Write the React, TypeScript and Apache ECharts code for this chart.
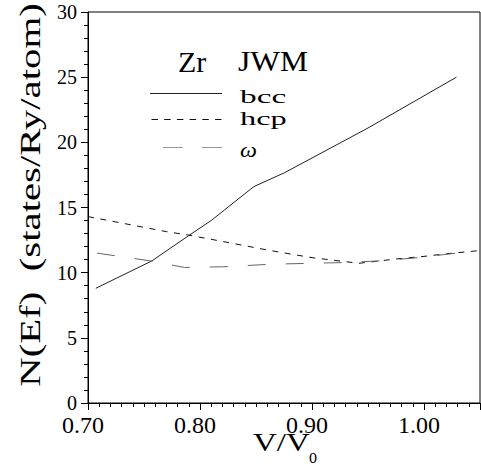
import React, { useEffect, useRef } from "react";
import * as echarts from "echarts";

// V/Vo values and N(Ef) values
const bccV = [0.707, 0.757, 0.79, 0.81, 0.848, 0.8755, 0.95, 1.029];
const bccN = [8.8, 10.9, 12.85, 14.0, 16.6, 17.67, 21.1, 25.0];

const hcpV = [0.7, 0.77, 0.79, 0.826, 0.86, 0.9, 0.942, 0.975, 1.0, 1.02, 1.05];
const hcpN = [14.3, 13.15, 12.88, 12.3, 11.74, 11.15, 10.72, 11.05, 11.25, 11.45, 11.7];

const omegaV = [0.708, 0.756, 0.786, 0.82, 0.864, 0.925, 0.96, 0.995, 1.029];
const omegaN = [11.5, 10.9, 10.4, 10.45, 10.65, 10.77, 10.9, 11.15, 11.5];

const xLabelValues = [0.7, 0.8, 0.9, 1.0];
const legendTitle = ["Zr", "JWM"];
const seriesNames = ["bcc", "hcp", "ω"];
const yTitle = "N(Ef)  (states/Ry/atom)";
const xTitleMain = "V/V";
const xTitleSub = "o";

const FONT = "'Liberation Serif', 'Times New Roman', serif";

const pairs = (xs: number[], ys: number[]) => xs.map((x, i) => [x, ys[i]]);

export default function App() {
  const ref = useRef<HTMLDivElement>(null);
  useEffect(() => {
    if (!ref.current) return;
    const chart = echarts.init(ref.current, undefined, { renderer: "svg" });
    const mid = (text: string, x: number, y: number, size: number, scaleX = 1, extra: any = {}) => ({
      type: "text",
      x,
      y,
      scaleX,
      rotation: extra.rotation || 0,
      style: {
        text,
        fontFamily: FONT,
        fontSize: size,
        fontStyle: extra.italic ? "italic" : "normal",
        fill: "#000",
        align: extra.align || "left",
        verticalAlign: "middle",
      },
    });
    const option: any = {
      animation: false,
      backgroundColor: "#fff",
      grid: {
        left: 88,
        top: 12,
        right: 1,
        bottom: 63,
        show: true,
        borderColor: "#000",
        borderWidth: 1,
        backgroundColor: "transparent",
      },
      xAxis: {
        type: "value",
        min: 0.7,
        max: 1.05,
        interval: 0.1,
        axisLine: { show: true, lineStyle: { color: "#000", width: 1 } },
        axisTick: { show: true, length: 7, lineStyle: { color: "#000" } },
        minorTick: { show: true, splitNumber: 10, length: 4, lineStyle: { color: "#000" } },
        splitLine: { show: false },
        minorSplitLine: { show: false },
        axisLabel: {
          show: true,
          margin: 13,
          fontFamily: FONT,
          fontSize: 24,
          lineHeight: 18,
          color: "#000",
          padding: [0, 10, 0, 0],
          showMaxLabel: false,
          formatter: (v: number) =>
            xLabelValues.some((t) => Math.abs(t - v) < 1e-6) ? v.toFixed(2) : "",
        },
      },
      yAxis: {
        type: "value",
        min: 0,
        max: 30,
        interval: 5,
        axisLine: { show: true, lineStyle: { color: "#000", width: 1 } },
        axisTick: { show: true, length: 7, lineStyle: { color: "#000" } },
        minorTick: { show: true, splitNumber: 5, length: 4, lineStyle: { color: "#000" } },
        splitLine: { show: false },
        axisLabel: {
          show: true,
          margin: 11,
          fontFamily: FONT,
          fontSize: 20,
          lineHeight: 15,
          color: "#000",
        },
      },
      series: [
        {
          name: seriesNames[0],
          type: "line",
          data: pairs(bccV, bccN),
          showSymbol: false,
          symbol: "none",
          lineStyle: { color: "#222", width: 1, type: "solid" },
        },
        {
          name: seriesNames[1],
          type: "line",
          data: pairs(hcpV, hcpN),
          showSymbol: false,
          symbol: "none",
          lineStyle: { color: "#111", width: 1, type: [6, 6.5] },
        },
        {
          name: seriesNames[2],
          type: "line",
          data: pairs(omegaV, omegaN),
          showSymbol: false,
          symbol: "none",
          lineStyle: { color: "#666", width: 1, type: [18, 20] },
        },
      ],
      graphic: [
        // legend title
        mid(legendTitle[0], 178, 61.5, 30),
        mid(legendTitle[1], 238, 61.5, 30, 1.05),
        // legend samples
        {
          type: "line",
          shape: { x1: 150, y1: 93.5, x2: 222, y2: 93.5 },
          style: { stroke: "#222", lineWidth: 1 },
        },
        {
          type: "line",
          shape: { x1: 151.5, y1: 119.5, x2: 222, y2: 119.5 },
          style: { stroke: "#111", lineWidth: 1, lineDash: [6.5, 6.2] },
        },
        {
          type: "line",
          shape: { x1: 163, y1: 147.5, x2: 222, y2: 147.5 },
          style: { stroke: "#999", lineWidth: 1, lineDash: [20, 19] },
        },
        // legend labels
        mid(seriesNames[0], 240, 96.7, 18, 1.85),
        mid(seriesNames[1], 240, 118.7, 18, 1.8),
        mid(seriesNames[2], 240, 150, 20, 1.2, { italic: true }),
        // y axis title
        mid(yTitle, 29.5, 195, 30, 1.36, { rotation: Math.PI / 2, align: "center" }),
        // x axis title
        mid(xTitleMain, 253, 442, 26, 1.27),
        mid(xTitleSub, 309, 456, 20, 0.8),
      ],
    };
    chart.setOption(option);
    return () => chart.dispose();
  }, []);
  return (
    <div
      ref={ref}
      style={{ position: "absolute", left: 0, top: 0, width: 481, height: 466, background: "#fff" }}
    />
  );
}
